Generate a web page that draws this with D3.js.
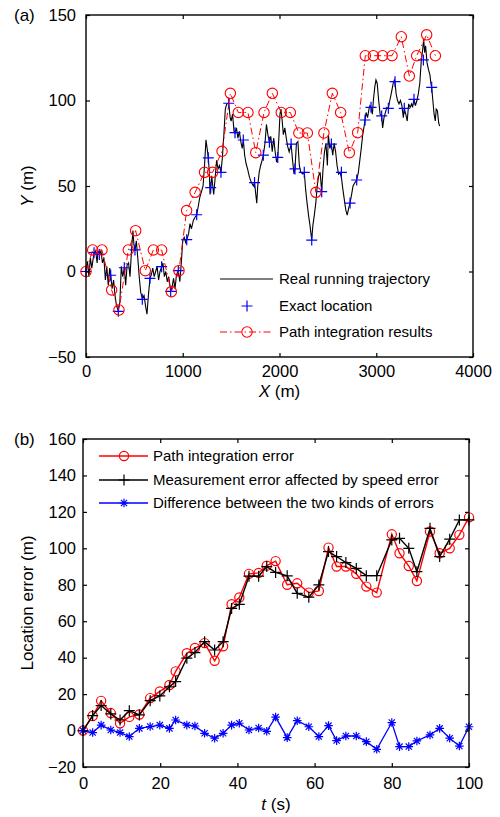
<!DOCTYPE html>
<html><head><meta charset="utf-8">
<script src="https://cdn.jsdelivr.net/npm/d3@7"></script>
<style>
body{margin:0;background:#fff;}
text{font-family:"Liberation Sans",Arial,sans-serif;fill:#000;}
</style></head>
<body>
<svg id="c" width="500" height="817"></svg>
<script>
// ---------- Panel (a) data ----------
const trajX = [0,15,30,45,60,83,100,115,125,138,155,170,185,200,215,230,245,255,270,285,300,315,334,350,365,380,396,410,425,440,455,470,485,495,506,520,535,550,565,582,600,615,630,645,661,675,690,705,720,735,750,765,782,795,810,825,840,855,875,890,905,920,935,954,970,985,1000,1015,1030,1041,1060,1075,1090,1110,1130,1144,1160,1175,1195,1210,1225,1240,1252,1264,1275,1282,1289,1300,1310,1320,1335,1350,1365,1380,1395,1410,1425,1440,1455,1475,1490,1500,1515,1530,1540,1555,1570,1585,1600,1615,1626,1640,1655,1670,1690,1710,1730,1742,1755,1765,1775,1790,1805,1820,1833,1850,1865,1880,1896,1910,1925,1940,1955,1970,1982,1995,2005,2015,2028,2040,2055,2070,2085,2100,2120,2135,2150,2160,2175,2190,2205,2220,2240,2256,2270,2285,2300,2315,2333,2345,2360,2375,2390,2405,2420,2436,2450,2465,2480,2495,2505,2520,2536,2550,2565,2580,2595,2610,2625,2640,2655,2670,2685,2700,2715,2729,2745,2760,2780,2798,2815,2830,2845,2860,2875,2884,2895,2910,2925,2935,2946,2960,2970,2985,2997,3010,3025,3040,3056,3066,3080,3095,3110,3125,3140,3155,3175,3187,3194,3205,3220,3235,3250,3265,3280,3290,3305,3320,3335,3350,3365,3375,3390,3405,3420,3435,3450,3465,3480,3490,3500,3510,3525,3540,3555,3565,3573,3585,3598,3610,3620,3632,3645,3655];
const trajY = [0,6,-3,8,2,11,12,5,12,10,12,5,8,-5,3,-8,2,-2,-10,-5,-14,-20,-23,-18,3,-3,2,-8,4,5,-3,12,24,16,12,18,8,-3,-12,-16,-14,-20,-25,-14,-4,-2,2,-3,0,3,-5,0,2.8,5,-3,0,-6,-3,-11.6,-9,-4,-10,-2,0.5,-6,5,18,20,17,18.6,22,28,25,30,32,33,38,43,47,50,62,77,72,66.5,58,45,49,56,50,45,55,65,60,62,58,67,80,95,98,98.4,90,88,92,82,81,84,78,82,76,72,77,68,63,60,55,52,50,52,45,40,50,58,62,65,68,75,86,80,75.6,79,70,78,70,64,66.7,80,92,95,88,80,84,78,73,70,74.5,65,57,60,75,76,62,58,57,58,48,40,33,27,18.4,27,33,40,50,56,58,46.7,60,70,75,62,80,72,74.5,68,75,70,62,57,58,55,48,42,36,33,37,40,45,50,52,53.5,58,65,72,80,85,88.6,93,90,95,97,96,92,100,108,112,110,100,92,91,84,90,93,96,95.4,100,104,110,112,111,104,100,98,100,97,90,95.4,92,88,98,96,98,96,100.7,97,100,104,110,123,130,136,128,132,122,118,115,110,107.7,100,92,88,95,94,87,85];
const exactX = [0,83,138,255,334,396,506,582,661,782,875,954,1041,1144,1264,1289,1395,1475,1540,1626,1742,1833,1896,1982,2120,2160,2256,2333,2436,2536,2640,2729,2798,2884,2946,3056,3125,3194,3290,3390,3487,3573];
const exactY = [0,11,10,-2.2,-23.3,2.2,12.6,-16.3,-4,2.8,-11.6,0.5,18.6,33.2,66.5,49,58,98.4,81.2,76.9,52,68,75.6,66.7,74.5,60,58,18.4,46.7,74.5,58,40,53.5,88.6,96,91,95.4,111,95.4,100.7,123.7,107.7];
const pathX = [0,69,165,265,341,437,513,613,696,782,882,961,1040,1128,1225,1309,1406,1492,1574,1674,1755,1840,1926,2018,2112,2200,2288,2376,2459,2546,2632,2722,2808,2887,2970,3066,3163,3259,3342,3418,3521,3611];
const pathY = [0,12.6,12.6,-10.8,-22.5,12.6,23.9,0.5,12.6,12.6,-11.8,0.5,35.6,46.3,58,58,70.3,104.2,93,93,69.5,93,104.2,93,93,81,81,46.3,81,104.2,93,69.5,81.2,126.2,126.2,126.2,126.2,137.3,114.3,126.2,138.4,126.2];
const topXTicks = [0,1000,2000,3000,4000];
const topYTicks = [-50,0,50,100,150];
const topLegend = ["Real running trajectory","Exact location","Path integration results"];

// ---------- Panel (b) data ----------
const timeS   = [0,2.5,4.7,7.2,9.6,12,14.6,17.4,19.9,22.4,24,26.9,29,31.5,34.1,36.3,38.5,40.5,43,45.5,47.6,49.9,52.9,55.5,58.5,61.1,63.6,65.7,68.1,70.8,73.4,76.1,80,82,84.4,86.5,89.9,92.4,95,97.5,100];
const pathErr = [0,8,16.3,9.6,4,7.5,8.8,17.8,21.5,25,32.5,42.4,45.3,48,38.3,46.2,69.3,73,86,86.5,90.5,93,80,80.8,75.7,76.6,100.4,90,90,86,79,75.7,107.7,97.3,90.3,82.1,109.2,97.3,100,107.4,117];
const measErr = [0,8.2,13.7,9.1,5.8,10.9,8.6,16.4,19,24,26.9,39.7,42.8,48.8,44.2,48.8,67,69.3,84.7,84.7,90,86.8,84.9,75.3,73.2,79.9,98.2,95.5,92.2,89,85,85,104.6,105.5,100,87.2,111,95.5,105,115.6,115.6];
const diffErr = [0,-1.1,3,0.3,-1.1,-3.3,1.2,2.2,3,1.2,5.8,3,2.5,-1.5,-4.2,-1.5,3,4,0.3,1.4,-0.4,7.4,-3.9,5.4,2.1,-3.3,2.7,-5.5,-3,-3,-6.1,-10.3,4.4,-8.8,-8.8,-5.7,-2.4,1.2,-4.2,-8.5,2.1];
const botXTicks = [0,20,40,60,80,100];
const botYTicks = [-20,0,20,40,60,80,100,120,140,160];
const botLegend = ["Path integration error","Measurement error affected by speed error","Difference between the two kinds of errors"];

const svg = d3.select("#c");
const TICKF = "16.5px", LEGF = "15px";

function plusPath(s){return `M${-s},0L${s},0M0,${-s}L0,${s}`;}
function starPath(s){const d=s*0.72;return `M${-s},0L${s},0M0,${-s}L0,${s}M${-d},${-d}L${d},${d}M${-d},${d}L${d},${-d}`;}

function frame(g, x, y, xt, yt, padX, padY){
  const [x0,x1]=x.range(), [y0,y1]=y.range();
  const ax = (gen, tx, ty, labels, pad, ticks)=>{
    const a = g.append("g").attr("transform",`translate(${tx},${ty})`)
      .call(gen.tickValues(ticks).tickSizeInner(-4).tickSizeOuter(0).tickPadding(pad).tickFormat(labels?d3.format("d"):""));
    a.select(".domain").remove();
    a.selectAll("line").attr("stroke","#000").attr("stroke-width",1.2);
    a.selectAll("text").style("font-size",TICKF).attr("fill","#000");
    return a;
  };
  ax(d3.axisBottom(x),0,y0,true,padX,xt);
  ax(d3.axisTop(x),0,y1,false,0,xt);
  ax(d3.axisLeft(y),x0,0,true,padY,yt);
  ax(d3.axisRight(y),x1,0,false,0,yt);
  g.append("rect").attr("x",x0).attr("y",y1).attr("width",x1-x0).attr("height",y0-y1)
    .attr("fill","none").attr("stroke","#000").attr("stroke-width",1.4);
}

// ================= Panel (a) =================
{
  const x = d3.scaleLinear().domain([0,4000]).range([86,473]);
  const y = d3.scaleLinear().domain([-50,150]).range([357,15]);
  const g = svg.append("g");
  const traj = trajX.map((v,i)=>[v,trajY[i]]);
  const exact = exactX.map((v,i)=>[v,exactY[i]]);
  const path = pathX.map((v,i)=>[v,pathY[i]]);
  const line = d3.line().x(d=>x(d[0])).y(d=>y(d[1]));
  g.append("path").attr("d",line(traj)).attr("fill","none").attr("stroke","#000").attr("stroke-width",1.1);
  g.selectAll(".ex").data(exact).enter().append("path")
    .attr("d",plusPath(5.5)).attr("transform",d=>`translate(${x(d[0])},${y(d[1])})`)
    .attr("stroke","#0000ff").attr("stroke-width",1.2).attr("fill","none");
  g.append("path").attr("d",line(path)).attr("fill","none").attr("stroke","#ff0000")
    .attr("stroke-width",1).attr("stroke-dasharray","7,3,1.5,3");
  g.selectAll(".pc").data(path).enter().append("circle")
    .attr("cx",d=>x(d[0])).attr("cy",d=>y(d[1])).attr("r",5.2)
    .attr("fill","none").attr("stroke","#ff0000").attr("stroke-width",1.1);
  frame(g,x,y,topXTicks,topYTicks,8,10);
  // legend
  const lg = g.append("g");
  const ly = [279,306,332];
  lg.append("line").attr("x1",220).attr("x2",273).attr("y1",ly[0]).attr("y2",ly[0]).attr("stroke","#000").attr("stroke-width",1.1);
  lg.append("path").attr("d",plusPath(5.5)).attr("transform",`translate(247,${ly[1]})`).attr("stroke","#0000ff").attr("stroke-width",1.2);
  lg.append("line").attr("x1",220).attr("x2",273).attr("y1",ly[2]).attr("y2",ly[2]).attr("stroke","#ff0000").attr("stroke-width",1).attr("stroke-dasharray","7,3,1.5,3");
  lg.append("circle").attr("cx",247).attr("cy",ly[2]).attr("r",5.2).attr("fill","none").attr("stroke","#ff0000").attr("stroke-width",1.1);
  topLegend.forEach((t,i)=>lg.append("text").attr("x",279).attr("y",ly[i]).attr("dy","0.36em").style("font-size",LEGF).text(t));
  // labels
  svg.append("text").attr("x",14).attr("y",21).style("font-size","17px").text("(a)");
  const xl = svg.append("text").attr("x",279.5).attr("y",397).attr("text-anchor","middle").style("font-size","17px");
  xl.append("tspan").style("font-style","italic").text("X");
  xl.append("tspan").text(" (m)");
  const yl = svg.append("text").attr("transform","translate(33,186) rotate(-90)").attr("text-anchor","middle").style("font-size","17px");
  yl.append("tspan").style("font-style","italic").text("Y");
  yl.append("tspan").text(" (m)");
}

// ================= Panel (b) =================
{
  const x = d3.scaleLinear().domain([0,100]).range([83,469]);
  const y = d3.scaleLinear().domain([-20,160]).range([767,439]);
  const g = svg.append("g");
  const line = d3.line().x(d=>x(d[0])).y(d=>y(d[1]));
  const pe = timeS.map((t,i)=>[t,pathErr[i]]);
  const me = timeS.map((t,i)=>[t,measErr[i]]);
  const de = timeS.map((t,i)=>[t,diffErr[i]]);
  g.append("path").attr("d",line(pe)).attr("fill","none").attr("stroke","#ff0000").attr("stroke-width",1.4);
  g.selectAll(".pe").data(pe).enter().append("circle").attr("cx",d=>x(d[0])).attr("cy",d=>y(d[1])).attr("r",4.6)
    .attr("fill","none").attr("stroke","#ff0000").attr("stroke-width",1.2);
  g.append("path").attr("d",line(me)).attr("fill","none").attr("stroke","#000").attr("stroke-width",1.4);
  g.selectAll(".me").data(me).enter().append("path").attr("d",plusPath(5.5))
    .attr("transform",d=>`translate(${x(d[0])},${y(d[1])})`).attr("stroke","#000").attr("stroke-width",1.2);
  g.append("path").attr("d",line(de)).attr("fill","none").attr("stroke","#0000ff").attr("stroke-width",1.3);
  g.selectAll(".de").data(de).enter().append("path").attr("d",starPath(4.3))
    .attr("transform",d=>`translate(${x(d[0])},${y(d[1])})`).attr("stroke","#0000ff").attr("stroke-width",1.2);
  frame(g,x,y,botXTicks,botYTicks,10,7);
  const lg = g.append("g");
  const ly = [456,480,503];
  const cols = ["#ff0000","#000","#0000ff"];
  ly.forEach((yy,i)=>{
    lg.append("line").attr("x1",99).attr("x2",148).attr("y1",yy).attr("y2",yy).attr("stroke",cols[i]).attr("stroke-width",1.4);
    if(i===0) lg.append("circle").attr("cx",124).attr("cy",yy).attr("r",4.6).attr("fill","none").attr("stroke",cols[i]).attr("stroke-width",1.2);
    if(i===1) lg.append("path").attr("d",plusPath(5.5)).attr("transform",`translate(124,${yy})`).attr("stroke",cols[i]).attr("stroke-width",1.2);
    if(i===2) lg.append("path").attr("d",starPath(4.3)).attr("transform",`translate(124,${yy})`).attr("stroke",cols[i]).attr("stroke-width",1.2);
    lg.append("text").attr("x",153).attr("y",yy).attr("dy","0.36em").style("font-size",LEGF).text(botLegend[i]);
  });
  svg.append("text").attr("x",14).attr("y",445).style("font-size","17px").text("(b)");
  const xl = svg.append("text").attr("x",276).attr("y",810).attr("text-anchor","middle").style("font-size","17px");
  xl.append("tspan").style("font-style","italic").text("t");
  xl.append("tspan").text(" (s)");
  svg.append("text").attr("transform","translate(33,603) rotate(-90)").attr("text-anchor","middle").style("font-size","17px").text("Location error (m)");
}
</script>
</body></html>
